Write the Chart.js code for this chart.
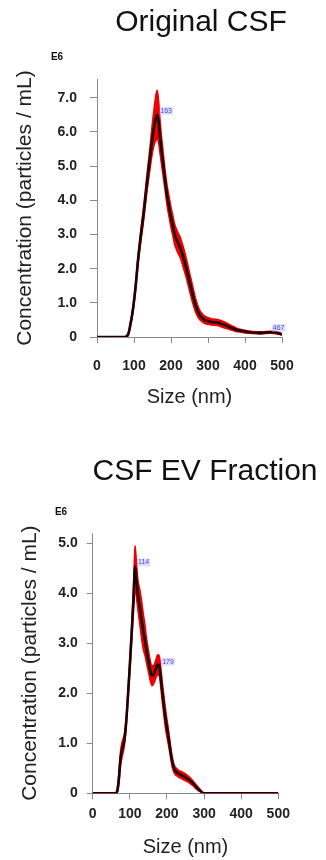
<!DOCTYPE html>
<html>
<head>
<meta charset="utf-8">
<script src="https://cdn.jsdelivr.net/npm/chart.js@4"></script>
<style>
  body { margin: 0; background: #fff; }
  canvas { display: block; }
</style>
</head>
<body>
<canvas id="originalChart" width="326" height="430"></canvas>
<canvas id="evChart" width="326" height="430"></canvas>
<script>
// Original CSF - size (nm), mean concentration (E6), band half width
const topSizes = [0,20,40,60,75,80,85,90,95,100,105,110,115,120,125,130,135,140,145,150,155,160,163,167,170,175,180,185,190,195,200,205,210,215,220,225,230,235,240,245,250,255,260,265,270,275,280,290,300,310,320,330,340,350,360,370,380,390,400,420,440,455,467,480,490,500]
const topMean = [0,0,0,0,0,0.02,0.1,0.35,0.65,1.05,1.55,2.15,2.65,3.1,3.52,4.0,4.5,4.95,5.4,5.85,6.2,6.45,6.5,6.25,5.9,5.4,4.95,4.5,4.1,3.8,3.5,3.25,3.0,2.85,2.73,2.62,2.45,2.27,2.07,1.85,1.62,1.4,1.18,0.98,0.82,0.7,0.61,0.51,0.47,0.44,0.43,0.41,0.37,0.33,0.28,0.24,0.2,0.18,0.16,0.13,0.12,0.13,0.14,0.13,0.11,0.08]
const topErr = [0,0,0,0,0,0.02,0.04,0.06,0.08,0.1,0.12,0.14,0.16,0.18,0.2,0.22,0.25,0.3,0.35,0.45,0.55,0.68,0.72,0.6,0.5,0.4,0.34,0.3,0.3,0.3,0.3,0.3,0.3,0.3,0.3,0.3,0.3,0.3,0.29,0.28,0.27,0.26,0.24,0.21,0.18,0.15,0.13,0.11,0.1,0.09,0.09,0.09,0.09,0.08,0.07,0.06,0.05,0.04,0.04,0.03,0.03,0.03,0.03,0.03,0.03,0.02]
const topPeaks = [163, 467]

// CSF EV Fraction
const evSizes = [0,20,40,60,65,70,75,80,85,90,95,100,105,110,114,118,122,127,132,137,141,145,150,155,160,165,170,175,179,183,187,191,195,200,205,210,215,220,230,240,250,260,270,280,290,300,350,400,450,500]
const evMean = [0,0,0,0,0.02,0.25,0.7,0.9,1.05,1.4,1.95,2.55,3.2,3.9,4.53,4.25,3.95,3.72,3.45,3.2,3.05,2.85,2.65,2.45,2.35,2.38,2.48,2.57,2.55,2.35,2.05,1.8,1.55,1.3,1.08,0.82,0.6,0.48,0.4,0.36,0.32,0.27,0.2,0.12,0.05,0,0,0,0,0]
const evErr = [0,0,0,0,0.02,0.1,0.15,0.15,0.12,0.1,0.1,0.12,0.15,0.25,0.42,0.35,0.3,0.35,0.38,0.35,0.3,0.25,0.22,0.2,0.2,0.18,0.18,0.2,0.2,0.2,0.2,0.2,0.2,0.18,0.15,0.12,0.1,0.08,0.07,0.07,0.07,0.06,0.05,0.04,0.02,0,0,0,0,0]
const evPeaks = [114, 179]

const xTicks = [0, 100, 200, 300, 400, 500]

const FONT = '"Liberation Sans", Arial, sans-serif'

// titles, E6 and the little blue peak labels
const extras = {
    id: 'extras',
    afterDatasetsDraw(chart, args, opts) {
        const ctx = chart.ctx
        const xs = chart.scales.x
        const ys = chart.scales.y
        ctx.save()
        ctx.fillStyle = '#111'
        ctx.textAlign = 'center'
        ctx.textBaseline = 'middle'
        ctx.font = '30px ' + FONT
        ctx.fillText(opts.title, opts.titleX, opts.titleY)
        ctx.font = 'bold 10px ' + FONT
        ctx.fillText('E6', opts.e6X, opts.e6Y)

        ctx.font = '7px ' + FONT
        ctx.textAlign = 'left'
        opts.peaks.forEach(p => {
            const i = opts.sizes.indexOf(p)
            const px = xs.getPixelForValue(p) + 3
            const py = ys.getPixelForValue(opts.mean[i]) - 4
            const w = ctx.measureText(String(p)).width
            ctx.fillStyle = 'rgba(170,170,255,0.35)'
            ctx.fillRect(px - 1, py - 4, w + 2, 8)
            ctx.fillStyle = '#4646f0'
            ctx.fillText(String(p), px, py)
        })
        ctx.restore()
    }
}

function makeChart(id, cfg) {
    const pts = arr => cfg.sizes.map((s, i) => ({ x: s, y: arr[i] }))
    const upper = cfg.mean.map((v, i) => v + cfg.err[i])
    const lower = cfg.mean.map((v, i) => Math.max(0, v - cfg.err[i]))

    const data = {
        datasets: [
            {
                // red band, filled down to the next dataset
                data: pts(upper),
                borderColor: 'rgb(238,0,0)',
                backgroundColor: 'rgb(238,0,0)',
                borderWidth: 1.5,
                fill: '+1',
                order: 2,
                pointRadius: 0,
                cubicInterpolationMode: 'monotone'
            },
            {
                data: pts(lower),
                borderColor: 'rgb(238,0,0)',
                borderWidth: 1.5,
                fill: false,
                order: 3,
                pointRadius: 0,
                cubicInterpolationMode: 'monotone'
            },
            {
                data: pts(cfg.mean),
                borderColor: '#1c0202',
                borderWidth: 2.6,
                fill: false,
                order: 0,
                pointRadius: 0,
                cubicInterpolationMode: 'monotone'
            }
        ]
    }

    const options = {
        responsive: false,
        animation: false,
        devicePixelRatio: 1,
        layout: {
            padding: { left: 0, top: cfg.areaTop, right: cfg.padRight, bottom: 0 }
        },
        plugins: {
            legend: { display: false },
            tooltip: { enabled: false },
            extras: {
                title: cfg.title, titleX: cfg.titleX, titleY: cfg.titleY,
                e6X: cfg.e6X, e6Y: cfg.e6Y,
                peaks: cfg.peaks, sizes: cfg.sizes, mean: cfg.mean
            }
        },
        scales: {
            x: {
                type: 'linear',
                min: 0,
                max: 500,
                afterBuildTicks: axis => { axis.ticks = xTicks.map(v => ({ value: v })) },
                afterFit: axis => { axis.height = cfg.xHeight },
                border: { display: true, color: '#8a8a8a', width: 1 },
                grid: { display: true, drawOnChartArea: false, drawTicks: true, tickLength: 6, color: '#8a8a8a' },
                ticks: {
                    padding: cfg.xPad,
                    color: '#222',
                    maxRotation: 0,
                    font: { family: FONT, size: 14, weight: 'bold' },
                    callback: v => String(v)
                },
                title: {
                    display: true,
                    text: 'Size (nm)',
                    color: '#222',
                    font: { family: FONT, size: 20 },
                    padding: { top: 0, bottom: cfg.xTitlePad }
                }
            },
            y: {
                min: 0,
                max: cfg.yMax,
                afterFit: axis => { axis.width = cfg.yWidth },
                border: { display: true, color: '#8a8a8a', width: 1 },
                grid: { display: true, drawOnChartArea: false, drawTicks: true, tickLength: cfg.yTick, color: '#8a8a8a' },
                ticks: {
                    stepSize: 1,
                    includeBounds: false,
                    padding: cfg.yPad,
                    color: '#222',
                    font: { family: FONT, size: 14, weight: 'bold' },
                    callback: v => v === 0 ? '0' : v.toFixed(1)
                },
                title: {
                    display: true,
                    text: 'Concentration (particles / mL)',
                    color: '#222',
                    font: { family: FONT, size: 21 },
                    padding: { top: cfg.yTitlePad, bottom: 0 }
                }
            }
        }
    }

    return new Chart(document.getElementById(id).getContext('2d'), {
        type: 'line',
        data: data,
        options: options,
        plugins: [extras]
    })
}

makeChart('originalChart', {
    sizes: topSizes, mean: topMean, err: topErr, peaks: topPeaks,
    title: 'Original CSF', titleX: 201, titleY: 23, e6X: 57, e6Y: 57,
    yMax: 7.55, areaTop: 79, padRight: 44, yWidth: 97, xHeight: 93,
    xPad: 15, xTitlePad: 21, yPad: 13, yTick: 7, yTitlePad: 13
})

makeChart('evChart', {
    sizes: evSizes, mean: evMean, err: evErr, peaks: evPeaks,
    title: 'CSF EV Fraction', titleX: 205, titleY: 42, e6X: 61, e6Y: 82,
    yMax: 5.2, areaTop: 103, padRight: 47.7, yWidth: 92.7, xHeight: 66.7,
    xPad: 6, xTitlePad: 1, yPad: 9, yTick: 6, yTitlePad: 18
})
</script>
</body>
</html>
